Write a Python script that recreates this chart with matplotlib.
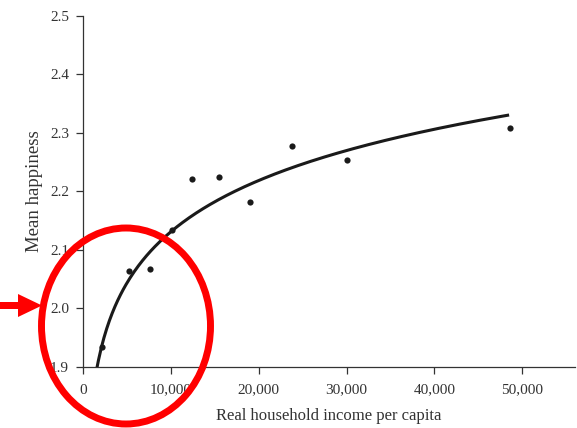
import numpy as np
import matplotlib
matplotlib.use("Agg")
import matplotlib.pyplot as plt
from matplotlib.patches import Ellipse, Polygon

# Data
income = [2200, 5200, 7600, 10100, 12400, 15500, 19000, 23800, 30100, 48600]
happiness = [1.935, 2.064, 2.068, 2.134, 2.221, 2.224, 2.182, 2.277, 2.253, 2.309]

# Logarithmic fit: happiness = fit_a + fit_b * ln(income)
fit_a = 0.967
fit_b = 0.1264
fit_range = [1600, 48500]

x_ticks = [0, 10000, 20000, 30000, 40000, 50000]
x_ticklabels = ["0", "10,000", "20,000", "30,000", "40,000", "50,000"]
y_ticks = [1.9, 2.0, 2.1, 2.2, 2.3, 2.4, 2.5]
y_ticklabels = ["1.9", "2.0", "2.1", "2.2", "2.3", "2.4", "2.5"]

W, H = 577, 428
fig = plt.figure(figsize=(W / 100, H / 100), dpi=100)
plt.rcParams['font.family'] = ['Liberation Serif', 'DejaVu Serif']

ax = fig.add_axes([83 / W, 61 / H, (575 - 83) / W, (367 - 16) / H])
ax.set_xlim(0, 56000)
ax.set_ylim(1.9, 2.5)

xs = np.linspace(fit_range[0], fit_range[1], 300)
ax.plot(xs, fit_a + fit_b * np.log(xs), color="#1a1a1a", lw=2.2, solid_capstyle="butt", zorder=3)
ax.scatter(income, happiness, s=20, color="#1a1a1a", zorder=4, linewidths=0)

for s in ["top", "right"]:
    ax.spines[s].set_visible(False)
for s in ["left", "bottom"]:
    ax.spines[s].set_color("#333333")
    ax.spines[s].set_linewidth(0.9)

ax.set_xticks(x_ticks)
ax.set_xticklabels(x_ticklabels)
ax.set_yticks(y_ticks)
ax.set_yticklabels(y_ticklabels)
ax.tick_params(direction="out", length=5, width=0.9, color="#333333",
               labelsize=11, labelcolor="#333333", pad=5)
ax.tick_params(axis="x", pad=7)

ax.set_xlabel("Real household income per capita", fontsize=12, color="#333333", labelpad=8)
ax.set_ylabel("Mean happiness", fontsize=13.5, color="#333333", labelpad=5)

# Red annotation: ellipse and arrow (figure pixel coords -> fraction)
ell = Ellipse((126 / W, 1 - 326 / H), 169 / W, 196 / H, transform=fig.transFigure,
              fill=False, edgecolor="#ff0000", lw=5, clip_on=False, zorder=10)
fig.patches.append(ell)

arrow_px = [(0, 302), (18, 302), (18, 294), (42, 305.5), (18, 317), (18, 309), (0, 309)]
arrow = Polygon([(x / W, 1 - y / H) for x, y in arrow_px], closed=True,
                transform=fig.transFigure, facecolor="#ff0000", edgecolor="none", zorder=10)
fig.patches.append(arrow)

fig.savefig("out.png", dpi=100)
